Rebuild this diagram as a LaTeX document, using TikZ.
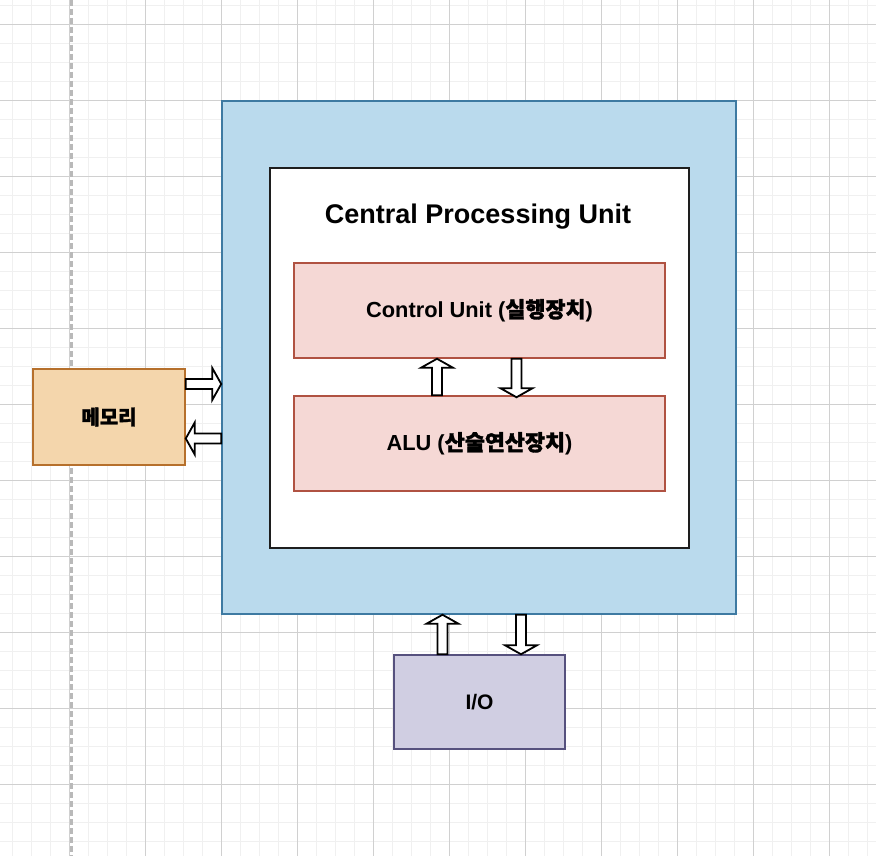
\documentclass[tikz,border=0pt]{standalone}
\usepackage{fontspec}
\setmainfont{Liberation Sans}
\newfontfamily\kr{Noto Sans CJK KR}[BoldFeatures={FakeBold=1.5}]
\usetikzlibrary{calc}
\definecolor{gridminor}{RGB}{240,240,240}
\definecolor{gridmajor}{RGB}{208,208,208}
\definecolor{dashgray}{RGB}{185,185,185}
\definecolor{cpufill}{RGB}{186,218,237}
\definecolor{cpuline}{RGB}{62,122,162}
\definecolor{unitfill}{RGB}{245,216,213}
\definecolor{unitline}{RGB}{176,82,66}
\definecolor{memfill}{RGB}{244,214,172}
\definecolor{memline}{RGB}{182,112,44}
\definecolor{iofill}{RGB}{208,206,226}
\definecolor{ioline}{RGB}{86,81,126}
\tikzset{
  boxbase/.style={draw, rectangle, inner sep=0pt, line width=1.5pt, font=\bfseries},
  cpubox/.style={boxbase, fill=cpufill, draw=cpuline},
  innerbox/.style={boxbase, fill=white, draw={rgb,255:red,30;green,30;blue,30}, line width=1.9pt},
  unitbox/.style={boxbase, fill=unitfill, draw=unitline, minimum width=371pt, minimum height=95pt, font=\bfseries\fontsize{21.8}{24}\selectfont},
  membox/.style={boxbase, fill=memfill, draw=memline, font=\bfseries\fontsize{20}{24}\selectfont},
  iobox/.style={boxbase, fill=iofill, draw=ioline, font=\bfseries\fontsize{21}{24}\selectfont},
  titletext/.style={font=\bfseries\fontsize{27}{30}\selectfont, inner sep=0pt},
  barrow/.style={draw=black, fill=white, line width=1.8pt, line join=miter},
  minorline/.style={draw=gridminor, line width=1.3pt},
  majorline/.style={draw=gridmajor, line width=1pt},
}
\newcommand{\blockarrow}[2]{%
  \coordinate (ba-h) at ($(#2)!9pt!(#1)$);
  \draw[barrow] ($(#1)!5pt!90:(#2)$) -- ($(ba-h)!5pt!90:(#2)$) -- ($(ba-h)!16pt!90:(#2)$) -- (#2)
     -- ($(ba-h)!16pt!-90:(#2)$) -- ($(ba-h)!5pt!-90:(#2)$) -- ($(#1)!5pt!-90:(#2)$) -- cycle;}
\begin{document}
\begin{tikzpicture}[x=1pt, y=-1pt]
\useasboundingbox (0,0) rectangle (876,856);
\fill[white] (0,0) rectangle (876,856);
% grid
\foreach \x in {12.5,31.5,...,876} \draw[minorline] (\x,0) -- (\x,856);
\foreach \y in {5.3,24.3,...,856} \draw[minorline] (0,\y) -- (876,\y);
\foreach \x in {69.5,145.5,...,876} \draw[majorline] (\x,0) -- (\x,856);
\foreach \y in {24.3,100.3,...,856} \draw[majorline] (0,\y) -- (876,\y);
\draw[dashgray, line width=2.6pt, dash pattern=on 6pt off 3pt] (71.7,0) -- (71.7,856);
% boxes
\node[cpubox, minimum width=514pt, minimum height=513pt] (cpu) at (479,357.5) {};
\node[innerbox, minimum width=419pt, minimum height=380pt] (inner) at (479.5,358) {};
\node[titletext] (title) at (478,217) {Central Processing Unit};
\node[unitbox] (ctrl) at (479.5,310.5) {Control Unit ({\kr 실행장치})};
\node[unitbox] (alu) at (479.5,443.5) {ALU ({\kr 산술연산장치})};
\node[membox, minimum width=152pt, minimum height=96pt] (mem) at (109,417) {\kr 메모리};
\node[iobox, minimum width=171pt, minimum height=94pt] (io) at (479.5,702) {I/O};
% connector endpoints
\coordinate (m1s) at ([yshift=33pt]mem.east);
\coordinate (m1e) at (m1s -| cpu.west);
\coordinate (m2e) at ([yshift=-21.5pt]mem.east);
\coordinate (m2s) at (m2e -| cpu.west);
\coordinate (u1s) at ([xshift=-42.5pt]alu.north);
\coordinate (u1e) at (u1s |- ctrl.south);
\coordinate (d1s) at ([xshift=37pt]ctrl.south);
\coordinate (d1e) at ([yshift=-2pt]d1s |- alu.north);
\coordinate (u2s) at ([xshift=-37pt]io.north);
\coordinate (u2e) at (u2s |- cpu.south);
\coordinate (d2s) at ([xshift=42pt]cpu.south);
\coordinate (d2e) at (d2s |- io.north);
\blockarrow{m1s}{m1e}
\blockarrow{m2s}{m2e}
\blockarrow{u1s}{u1e}
\blockarrow{d1s}{d1e}
\blockarrow{u2s}{u2e}
\blockarrow{d2s}{d2e}
\end{tikzpicture}
\end{document}
